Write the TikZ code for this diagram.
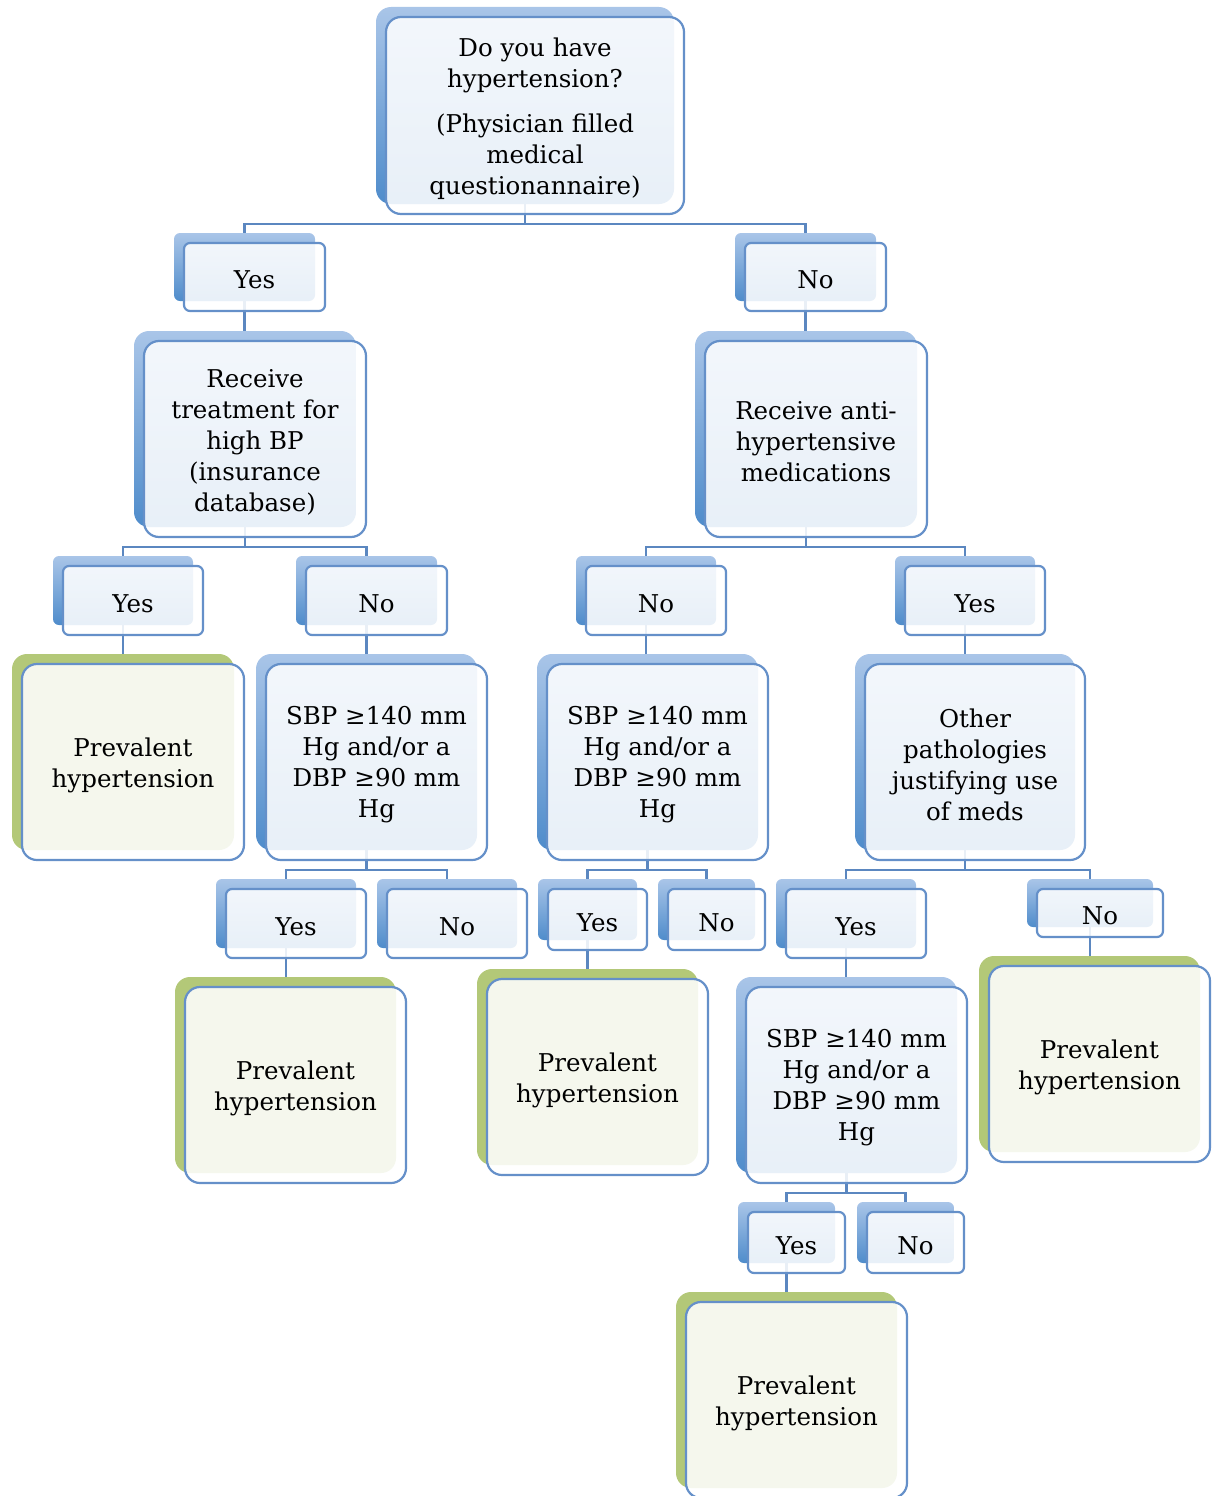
\documentclass[tikz,border=0pt]{standalone}
\usepackage{fontspec}
\setmainfont{DejaVu Serif}
\pgfdeclarelayer{bg}
\pgfsetlayers{bg,main}
\definecolor{bbtop}{HTML}{A9C5E8}
\definecolor{bbbot}{HTML}{4F8CCB}
\definecolor{gback}{HTML}{B3C878}
\definecolor{frame}{HTML}{6590C9}
\definecolor{conncol}{HTML}{5B87C0}
\tikzset{
  blueback/.style={rectangle, inner sep=0pt, draw=none, top color=bbtop, bottom color=bbbot},
  greenback/.style={rectangle, inner sep=0pt, draw=none, fill=gback},
  frontbox/.style={rectangle, inner sep=0pt, draw=frame, line width=2.2pt, fill=white, fill opacity=0.87, draw opacity=1},
  boxtext/.style={inner sep=0pt, align=center, text=black, font=\fontsize{24.5}{31}\selectfont},
  bigr/.style={rounded corners=15pt},
  smallr/.style={rounded corners=6pt},
  conn/.style={draw=conncol, line width=2.2pt}
}
% #1 name, #2 back style, #3 corner style, #4 x1, #5 y1, #6 x2, #7 y2, #8 text
\newcommand\tbox[8]{%
  \pgfmathsetmacro\bw{#6-#4}%
  \pgfmathsetmacro\bh{#7-#5}%
  \node[#2, #3, minimum width=\bw pt, minimum height=\bh pt] (#1B) at ({(#4+#6)/2-10},{(#5+#7)/2-10}) {};
  \node[frontbox, #3, minimum width=\bw pt, minimum height=\bh pt] (#1) at ({(#4+#6)/2},{(#5+#7)/2}) {};
  \node[boxtext] (#1T) at ({(#4+#6)/2},{(#5+#7)/2+3}) {#8};
}
\begin{document}
\begin{tikzpicture}[x=1pt, y=-1pt]
\useasboundingbox (0,0) rectangle (1211,1496);

\tbox{top}{blueback}{bigr}{386}{17}{684}{214}{Do you have\\ hypertension?\\[14pt] (Physician filled\\ medical\\ questionannaire)}
\tbox{yesA}{blueback}{smallr}{184}{243}{325}{311}{Yes}
\tbox{noA}{blueback}{smallr}{745}{243}{886}{311}{No}
\tbox{recv}{blueback}{bigr}{144}{341}{366}{537}{Receive\\ treatment for\\ high BP\\ (insurance\\ database)}
\tbox{anti}{blueback}{bigr}{705}{341}{927}{537}{Receive anti-\\ hypertensive\\ medications}
\tbox{yesB}{blueback}{smallr}{63}{566}{203}{635}{Yes}
\tbox{noB}{blueback}{smallr}{306}{566}{447}{635}{No}
\tbox{noC}{blueback}{smallr}{586}{566}{726}{635}{No}
\tbox{yesC}{blueback}{smallr}{905}{566}{1045}{635}{Yes}
\tbox{prevA}{greenback}{bigr}{22}{664}{244}{860}{Prevalent\\ hypertension}
\tbox{sbpA}{blueback}{bigr}{266}{664}{487}{860}{SBP ≥140 mm\\ Hg and/or a\\ DBP ≥90 mm\\ Hg}
\tbox{sbpB}{blueback}{bigr}{547}{664}{768}{860}{SBP ≥140 mm\\ Hg and/or a\\ DBP ≥90 mm\\ Hg}
\tbox{other}{blueback}{bigr}{865}{664}{1085}{860}{Other\\ pathologies\\ justifying use\\ of meds}
\tbox{yesD}{blueback}{smallr}{226}{889}{366}{958}{Yes}
\tbox{noD}{blueback}{smallr}{387}{889}{527}{958}{No}
\tbox{yesE}{blueback}{smallr}{548}{889}{647}{950}{Yes}
\tbox{noE}{blueback}{smallr}{668}{889}{765}{950}{No}
\tbox{yesF}{blueback}{smallr}{786}{889}{926}{958}{Yes}
\tbox{noF}{blueback}{smallr}{1037}{889}{1163}{937}{No}
\tbox{prevB}{greenback}{bigr}{185}{987}{406}{1183}{Prevalent\\ hypertension}
\tbox{prevC}{greenback}{bigr}{487}{979}{708}{1175}{Prevalent\\ hypertension}
\tbox{sbpC}{blueback}{bigr}{746}{987}{967}{1183}{SBP ≥140 mm\\ Hg and/or a\\ DBP ≥90 mm\\ Hg}
\tbox{prevD}{greenback}{bigr}{989}{966}{1210}{1162}{Prevalent\\ hypertension}
\tbox{yesG}{blueback}{smallr}{748}{1212}{845}{1273}{Yes}
\tbox{noG}{blueback}{smallr}{867}{1212}{964}{1273}{No}
\tbox{prevE}{greenback}{bigr}{686}{1302}{907}{1498}{Prevalent\\ hypertension}

\begin{pgfonlayer}{bg}
% branches
\draw[conn] (topB.south) -- ++(0,20) -| (yesAB.north);
\draw[conn] (topB.south) -- ++(0,20) -| (noAB.north);
\draw[conn] (recvB.south) -- ++(0,20) -| (yesBB.north);
\draw[conn] (recvB.south) -- ++(0,20) -| (noBB.north);
\draw[conn] (antiB.south) -- ++(0,20) -| (noCB.north);
\draw[conn] (antiB.south) -- ++(0,20) -| (yesCB.north);
\draw[conn] (sbpAB.south) -- ++(0,20) -| (yesDB.north);
\draw[conn] (sbpAB.south) -- ++(0,20) -| (noDB.north);
\draw[conn] (sbpBB.south) -- ++(0,20) -| (yesEB.north);
\draw[conn] (sbpBB.south) -- ++(0,20) -| (noEB.north);
\draw[conn] (otherB.south) -- ++(0,20) -| (yesFB.north);
\draw[conn] (otherB.south) -- ++(0,20) -| (noFB.north);
\draw[conn] (sbpCB.south) -- ++(0,20) -| (yesGB.north);
\draw[conn] (sbpCB.south) -- ++(0,20) -| (noGB.north);
% straight links
\draw[conn] (yesAB.south) -- (yesAB.south |- recvB.north);
\draw[conn] (noAB.south) -- (noAB.south |- antiB.north);
\draw[conn] (yesBB.south) -- (yesBB.south |- prevAB.north);
\draw[conn] (noBB.south) -- (noBB.south |- sbpAB.north);
\draw[conn] (noCB.south) -- (noCB.south |- sbpBB.north);
\draw[conn] (yesCB.south) -- (yesCB.south |- otherB.north);
\draw[conn] (yesDB.south) -- (yesDB.south |- prevBB.north);
\draw[conn] (yesEB.south) -- (yesEB.south |- prevCB.north);
\draw[conn] (yesFB.south) -- (yesFB.south |- sbpCB.north);
\draw[conn] (noFB.south) -- (noFB.south |- prevDB.north);
\draw[conn] (yesGB.south) -- (yesGB.south |- prevEB.north);
\end{pgfonlayer}
\end{tikzpicture}
\end{document}
